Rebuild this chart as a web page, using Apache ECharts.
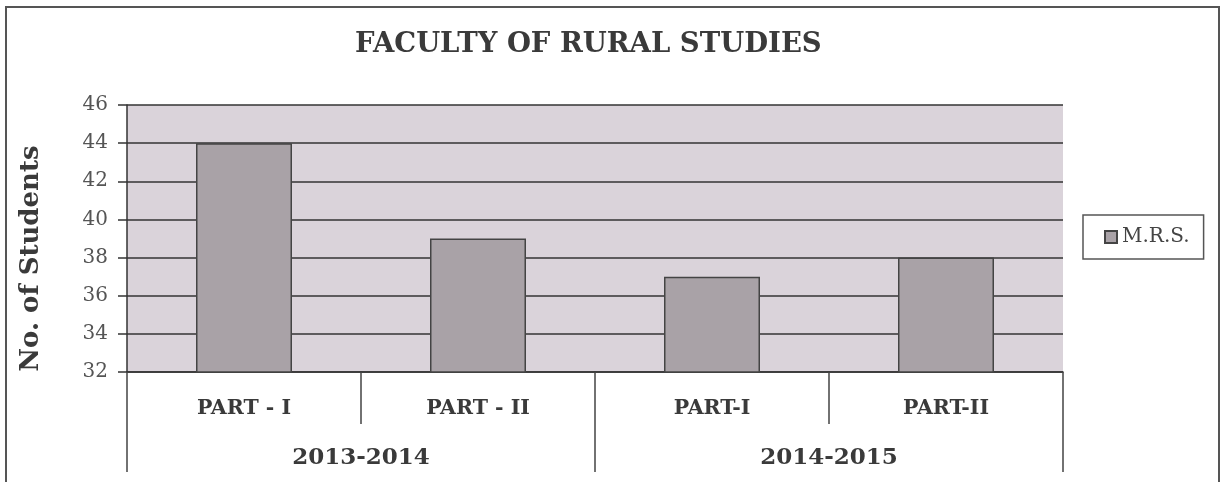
<!DOCTYPE html>
<html lang="en">
<head>
    <meta charset="UTF-8">
    <title>Faculty of Rural Studies</title>
    <script src="https://cdn.jsdelivr.net/npm/echarts@6/dist/echarts.min.js"></script>
</head>
<body style="margin:0;background:#fff;">
<div id="main" style="width:1226px;height:482px;"></div>
<script>
    var parts = ['PART - I', 'PART - II', 'PART-I', 'PART-II'];
    var years = ['2013-2014', '2014-2015'];
    var mrs = [44, 39, 37, 38];
    var yMin = 32, yMax = 46, yStep = 2;

    var ink = '#3a3a3a';
    var serif = '"DejaVu Serif", "Liberation Serif", serif';

    var myChart = echarts.init(document.getElementById('main'));
    var option = {
        backgroundColor: '#fff',
        animation: false,
        title: {
            text: 'FACULTY OF RURAL STUDIES',
            left: 350,
            top: 26,
            textStyle: {fontFamily: serif, fontWeight: 'bold', fontSize: 27.5, color: ink}
        },
        legend: {
            data: ['M.R.S.'],
            left: 1083,
            top: 215,
            orient: 'vertical',
            padding: [12, 14, 12, 21],
            borderColor: '#555',
            borderWidth: 1.5,
            icon: 'rect',
            itemWidth: 12,
            itemHeight: 12,
            itemGap: 4,
            textStyle: {fontFamily: serif, fontSize: 20, color: '#444'}
        },
        grid: {
            left: 127, right: 163, top: 105, bottom: 110,
            show: true, backgroundColor: '#dad3da', borderWidth: 0
        },
        xAxis: [
            {
                type: 'category',
                data: parts,
                axisLine: {lineStyle: {color: '#333', width: 1.5}},
                axisTick: {show: true, interval: 0, length: 52, lineStyle: {color: '#444', width: 1.5}},
                axisLabel: {margin: 26, fontFamily: serif, fontWeight: 'bold', fontSize: 20.5, color: ink}
            },
            {
                type: 'category',
                position: 'bottom',
                data: years,
                axisLine: {show: false},
                axisTick: {show: true, interval: 0, length: 100, lineStyle: {color: '#444', width: 1.5}},
                axisLabel: {margin: 75, fontFamily: serif, fontWeight: 'bold', fontSize: 23, color: ink}
            }
        ],
        yAxis: {
            type: 'value',
            min: yMin,
            max: yMax,
            interval: yStep,
            name: 'No. of Students',
            nameLocation: 'middle',
            nameRotate: 90,
            nameGap: 83,
            nameTextStyle: {fontFamily: serif, fontWeight: 'bold', fontSize: 26, color: ink, padding: [0, 40, 0, 0]},
            axisLine: {show: true, lineStyle: {color: '#333', width: 1.5}},
            axisTick: {show: true, length: 9, lineStyle: {color: '#333', width: 1.5}},
            axisLabel: {margin: 19, fontFamily: serif, fontSize: 20, color: '#555'},
            splitLine: {lineStyle: {color: '#333', width: 1.5}}
        },
        series: [
            {
                name: 'M.R.S.',
                type: 'bar',
                xAxisIndex: 0,
                data: mrs,
                barWidth: 96,
                itemStyle: {color: '#a9a2a7', borderColor: '#444', borderWidth: 1.5}
            }
        ],
        graphic: [
            {
                type: 'polyline',
                shape: {points: [[6, 482], [6, 7], [1219, 7], [1219, 482]]},
                style: {stroke: '#555', lineWidth: 2, fill: null}
            }
        ]
    };
    myChart.setOption(option);
</script>
</body>
</html>
